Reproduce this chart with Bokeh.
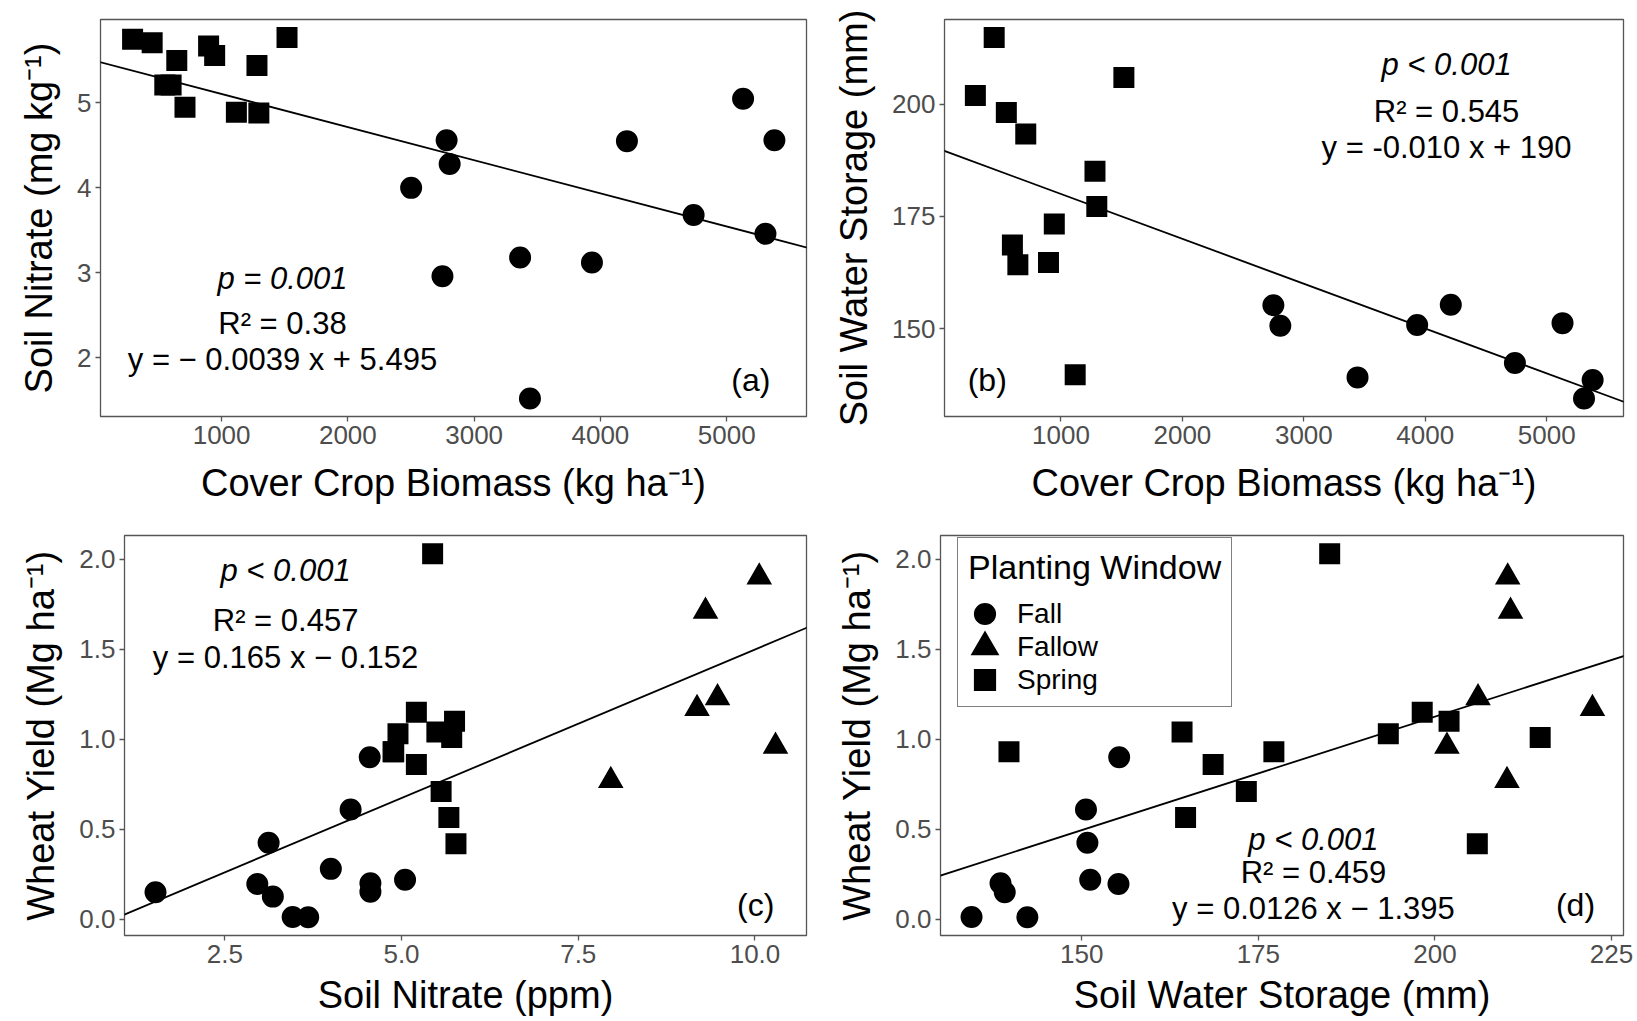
import numpy as np
from bokeh.plotting import figure
from bokeh.models import Range1d, FixedTicker, NumeralTickFormatter, Label, Legend, LegendItem, Slope
from bokeh.layouts import column, row
from bokeh.embed import file_html
from bokeh.resources import INLINE

NAN = float("nan")

# ---------------- data ----------------
# Spring planting window
spring_biomass = [295, 450, 550, 600, 645, 710, 897, 945, 1117, 1280, 1295, 1518]
spring_nitrate = [5.75, 5.71, 5.21, 5.21, 5.50, 4.95, 5.67, 5.56, 4.89, 5.44, 4.88, 5.77]
spring_sws = [202.0, 214.9, 198.2, 168.6, 164.2, 193.4, 164.7, 173.3, 139.7, 185.1, 177.2, 206.0]
spring_yield = [1.10, 1.01, 1.15, 0.86, 1.04, 1.03, 0.565, 0.71, 0.93, 2.03, 0.93, 0.42]

# Fall planting window (NaN = not shown in the water-storage panels)
fall_biomass = [2501, 2749, 2782, 2806, 3364, 3442, 3933, 4210, 4738, 5130, 5307, 5378]
fall_nitrate = [4.00, 2.96, 4.56, 4.28, 3.18, 1.52, 3.12, 4.55, 3.68, 5.05, 3.46, 4.56]
fall_sws = [NAN, 155.2, NAN, 150.6, NAN, 139.1, 150.8, 155.3, 142.3, 151.2, 134.4, 138.5]
fall_yield = [0.28, 0.196, 0.153, 0.61, 0.126, 0.150, 0.425, 0.90, 0.011, 0.22, 0.013, 0.20]

# Fallow planting window (no cover crop biomass)
fallow_nitrate = [7.96, 9.18, 9.30, 9.47, 10.06, 10.29]
fallow_sws = [210.2, 222.3, 210.7, 206.1, 210.3, 201.7]
fallow_yield = [0.77, 1.17, 1.71, 1.23, 1.90, 0.96]

# regression lines (slope, intercept) as drawn
fit_a = (-0.00039, 5.495)
fit_b = (-0.010, 190.0)
fit_c = (0.165, -0.152)
fit_d = (0.0126, -1.395)

stats_a = ["p = 0.001", "R\u00b2 = 0.38", "y = \u2212 0.0039 x + 5.495"]
stats_b = ["p < 0.001", "R\u00b2 = 0.545", "y = -0.010 x + 190"]
stats_c = ["p < 0.001", "R\u00b2 = 0.457", "y = 0.165 x \u2212 0.152"]
stats_d = ["p < 0.001", "R\u00b2 = 0.459", "y = 0.0126 x \u2212 1.395"]

ticks_biomass = [1000, 2000, 3000, 4000, 5000]
ticks_nitrate_a = [2, 3, 4, 5]
ticks_sws_b = [150, 175, 200]
ticks_nitrate_c = [2.5, 5.0, 7.5, 10.0]
ticks_sws_d = [150, 175, 200, 225]
ticks_yield = [0.0, 0.5, 1.0, 1.5, 2.0]

FONT = "Liberation Sans"
SUP = "\u207b\u00b9"


def padded(*lists):
    v = np.concatenate([np.asarray(l, dtype=float) for l in lists])
    v = v[~np.isnan(v)]
    lo, hi = v.min(), v.max()
    pad = 0.05 * (hi - lo)
    return Range1d(lo - pad, hi + pad)


def make_fig(w, h, bl, br, bt, bb, xr, yr, xlabel, ylabel, xticks, yticks,
             xstand, xfmt=None, yfmt=None):
    p = figure(width=w, height=h, x_range=xr, y_range=yr, output_backend="svg",
               toolbar_location=None, min_border_left=bl, min_border_right=br,
               min_border_top=bt, min_border_bottom=bb)
    p.xgrid.visible = False
    p.ygrid.visible = False
    p.background_fill_color = "white"
    p.border_fill_color = "white"
    p.outline_line_color = "#555555"
    p.outline_line_width = 1.3
    for ax in (p.xaxis[0], p.yaxis[0]):
        ax.axis_line_color = None
        ax.major_tick_line_color = "#555555"
        ax.major_tick_line_width = 1.3
        ax.major_tick_out = 5
        ax.major_tick_in = 0
        ax.minor_tick_line_color = None
        ax.major_label_text_font = FONT
        ax.major_label_text_font_size = "26px"
        ax.major_label_text_color = "#4d4d4d"
        ax.axis_label_text_font = FONT
        ax.axis_label_text_font_size = "38px"
        ax.axis_label_text_font_style = "normal"
        ax.axis_label_text_color = "black"
    p.xaxis[0].axis_label = xlabel
    p.yaxis[0].axis_label = ylabel
    p.xaxis[0].ticker = FixedTicker(ticks=xticks)
    p.yaxis[0].ticker = FixedTicker(ticks=yticks)
    p.xaxis[0].major_label_standoff = 4
    p.yaxis[0].major_label_standoff = 4
    p.xaxis[0].axis_label_standoff = xstand
    p.yaxis[0].axis_label_standoff = 14
    if xfmt:
        p.xaxis[0].formatter = NumeralTickFormatter(format=xfmt)
    if yfmt:
        p.yaxis[0].formatter = NumeralTickFormatter(format=yfmt)
    return p


def add_text(p, x, ys, lines, panel_label, px, py):
    for i, (yy, t) in enumerate(zip(ys, lines)):
        p.add_layout(Label(x=x, y=yy, text=t, text_align="center", text_baseline="middle",
                           text_font=FONT, text_font_size="31px",
                           text_font_style="italic" if i == 0 else "normal",
                           text_color="black"))
    p.add_layout(Label(x=px, y=py, text=panel_label, text_align="center", text_baseline="middle",
                       text_font=FONT, text_font_size="32px", text_color="black"))


def add_fit(p, fit):
    p.add_layout(Slope(gradient=fit[0], y_intercept=fit[1], line_color="black", line_width=1.8))


# marker core size + thick outline (the outline keeps legend keys full size)
LW = 9
MARK = dict(circle=dict(marker="circle", size=13),
            square=dict(marker="square", size=12, line_join="miter"),
            triangle=dict(marker="triangle", size=10, line_join="miter"))


def pts(p, x, y, kind):
    return p.scatter(x, y, fill_color="black", line_color="black", line_width=LW, **MARK[kind])


# ---------------- panel (a) ----------------
xa = padded(spring_biomass, fall_biomass)
ya = padded(spring_nitrate, fall_nitrate)
pa = make_fig(820, 516, 100, 14, 19, 100, xa, ya,
              "Cover Crop Biomass (kg ha" + SUP + ")", "Soil Nitrate (mg kg" + SUP + ")",
              ticks_biomass, ticks_nitrate_a, 15)
add_fit(pa, fit_a)
pts(pa, fall_biomass, fall_nitrate, "circle")
pts(pa, spring_biomass, spring_nitrate, "square")
add_text(pa, 1482, [2.93, 2.40, 1.98], stats_a, "(a)", 5192, 1.74)

# ---------------- panel (b) ----------------
xb = padded(spring_biomass, fall_biomass)
yb = padded(spring_sws, fall_sws)
pb = make_fig(817, 516, 124, 14, 19, 100, xb, yb,
              "Cover Crop Biomass (kg ha" + SUP + ")", "Soil Water Storage (mm)",
              ticks_biomass, ticks_sws_b, 15)
add_fit(pb, fit_b)
pts(pb, fall_biomass, fall_sws, "circle")
pts(pb, spring_biomass, spring_sws, "square")
add_text(pb, 4175, [208.9, 198.5, 190.4], stats_b, "(b)", 393, 138.5)

# ---------------- panel (c) ----------------
xc = padded(spring_nitrate, fall_nitrate, fallow_nitrate)
yc = padded(spring_yield, fall_yield, fallow_yield)
pc = make_fig(820, 505, 124, 14, 19, 86, xc, yc,
              "Soil Nitrate (ppm)", "Wheat Yield (Mg ha" + SUP + ")",
              ticks_nitrate_c, ticks_yield, 8, xfmt="0.0", yfmt="0.0")
add_fit(pc, fit_c)
pts(pc, fall_nitrate, fall_yield, "circle")
pts(pc, fallow_nitrate, fallow_yield, "triangle")
pts(pc, spring_nitrate, spring_yield, "square")
add_text(pc, 3.36, [1.935, 1.658, 1.455], stats_c, "(c)", 10.01, 0.079)

# ---------------- panel (d) ----------------
xd = padded(spring_sws, fall_sws, fallow_sws)
yd = padded(spring_yield, fall_yield, fallow_yield)
pd_ = make_fig(817, 505, 120, 14, 19, 86, xd, yd,
               "Soil Water Storage (mm)", "Wheat Yield (Mg ha" + SUP + ")",
               ticks_sws_d, ticks_yield, 8, yfmt="0.0")
add_fit(pd_, fit_d)
r_fall = pts(pd_, fall_sws, fall_yield, "circle")
r_fallow = pts(pd_, fallow_sws, fallow_yield, "triangle")
r_spring = pts(pd_, spring_sws, spring_yield, "square")
add_text(pd_, 182.8, [0.445, 0.262, 0.06], stats_d, "(d)", 219.9, 0.079)

legend = Legend(items=[LegendItem(label="Fall", renderers=[r_fall]),
                       LegendItem(label="Fallow", renderers=[r_fallow]),
                       LegendItem(label="Spring", renderers=[r_spring])],
                title="Planting Window", location=(17, 228))
legend.border_line_color = "black"
legend.border_line_width = 1.5
legend.background_fill_color = "white"
legend.background_fill_alpha = 1.0
legend.title_text_font = FONT
legend.title_text_font_size = "34px"
legend.title_text_font_style = "normal"
legend.title_text_color = "black"
legend.label_text_font = FONT
legend.label_text_font_size = "28px"
legend.label_text_color = "black"
legend.glyph_width = 33
legend.glyph_height = 33
legend.spacing = 0
legend.padding = 10
legend.margin = 0
legend.label_standoff = 16
legend.title_standoff = 10
pd_.add_layout(legend)

layout = column(row(pa, pb), row(pc, pd_))
open("out.html", "w").write(file_html(layout, INLINE))
